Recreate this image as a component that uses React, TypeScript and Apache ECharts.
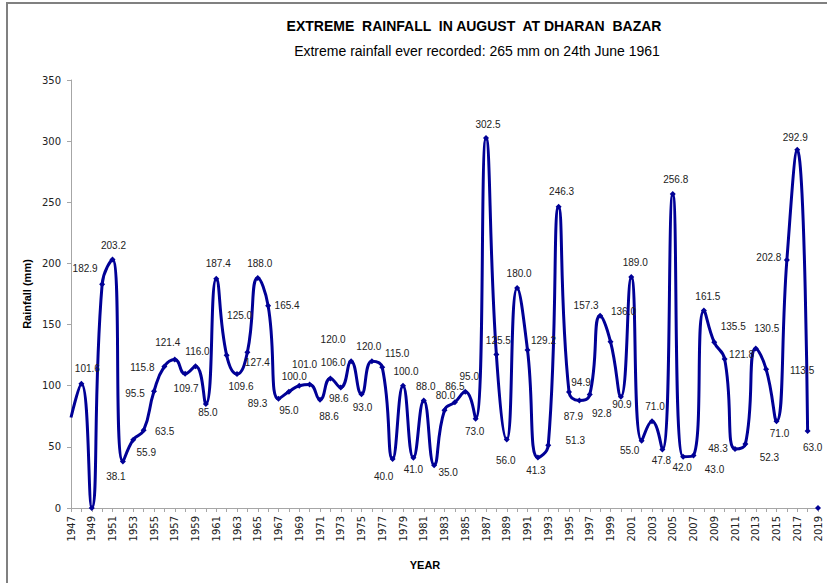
import React, { useEffect, useRef } from "react";
import * as echarts from "echarts";

const TITLE = "EXTREME  RAINFALL  IN AUGUST  AT DHARAN  BAZAR";
const SUBTITLE = "Extreme rainfall ever recorded: 265 mm on 24th June 1961";
const Y_NAME = "Rainfall (mm)";
const X_NAME = "YEAR";

const years = [
  "1947", "1948", "1949", "1950", "1951", "1952", "1953", "1954", "1955", "1956",
  "1957", "1958", "1959", "1960", "1961", "1962", "1963", "1964", "1965", "1966",
  "1967", "1968", "1969", "1970", "1971", "1972", "1973", "1974", "1975", "1976",
  "1977", "1978", "1979", "1980", "1981", "1982", "1983", "1984", "1985", "1986",
  "1987", "1988", "1989", "1990", "1991", "1992", "1993", "1994", "1995", "1996",
  "1997", "1998", "1999", "2000", "2001", "2002", "2003", "2004", "2005", "2006",
  "2007", "2008", "2009", "2010", "2011", "2012", "2013", "2014", "2015", "2016",
  "2017", "2018", "2019",
];

// rainfall (mm), 1947..2018
const rainfall = [
  74, 101.6, 0, 182.9, 203.2, 38.1, 55.9, 63.5, 95.5, 115.8,
  121.4, 109.7, 116.0, 85.0, 187.4, 125.0, 109.6, 127.4, 188.0, 165.4,
  89.3, 95.0, 100.0, 101.0, 88.6, 106.0, 98.6, 120.0, 93.0, 120.0,
  115.0, 40.0, 100.0, 41.0, 88.0, 35.0, 80.0, 86.5, 95.0, 73.0,
  302.5, 125.5, 56.0, 180.0, 129.2, 41.3, 51.3, 246.3, 94.9, 87.9,
  92.8, 157.3, 136.0, 90.9, 189.0, 55.0, 71.0, 47.8, 256.8, 42.0,
  43.0, 161.5, 135.5, 121.8, 48.3, 52.3, 130.5, 113.5, 71.0, 202.8,
  292.9, 63.0,
];

// isolated final reading (2019)
const lastYearValue = 0;

// which points carry a data label
const labelShown = rainfall.map((_, i) => i !== 0 && i !== 2);

// label placement offsets (layout only), per point
const labelOffsets: number[][] = [
  [0, 0], [6, -15], [0, 0], [-17, -16], [1, -14], [-7, 15], [13, 13], [21, 1], [-19, 2], [-22, 1],
  [-7, -17], [1, 15], [2, -15], [2, 8], [2, -15], [13, -40], [4, 13], [10, 10], [2, -15], [19, 0],
  [-21, 5], [0, 19], [-5, -9], [-5, -20], [9, 17], [3, -16], [-2, 11], [-18, -22], [1, 13], [-3, -15],
  [15, -14], [-9, 17], [3, -14], [0, 12], [2, -14], [14, 7], [1, -15], [0, -16], [4, -15], [-1, 13],
  [2, -14], [2, -14], [-1, 21], [2, -14], [16, -10], [-2, 13], [27, -5], [3, -15], [12, -9], [-6, 16],
  [12, 19], [-14, -10], [13, -30], [1, 8], [4, -14], [-12, 10], [3, -15], [-1, 11], [3, -14], [-1, 11],
  [21, 14], [4, -14], [19, -16], [17, -5], [-17, 0], [24, 13], [11, -20], [36, 1], [3, 12], [-18, -3],
  [-2, -12], [5, 17],
];

const LINE_COLOR = "#000096";

export default function App() {
  const ref = useRef<HTMLDivElement>(null);

  useEffect(() => {
    if (!ref.current) return;
    const chart = echarts.init(ref.current, null, { renderer: "svg" });

    const mainData = rainfall.map((v, i) => ({
      value: v,
      symbolSize: i === 0 ? 0 : 6,
      label: {
        show: labelShown[i],
        position: "inside",
        offset: labelOffsets[i],
      },
    }));

    const lastData = years.map((_, i) => (i === years.length - 1 ? lastYearValue : null));

    chart.setOption({
      animation: false,
      backgroundColor: "#ffffff",
      title: [
        {
          text: TITLE,
          left: 469,
          top: 14,
          textAlign: "center",
          textStyle: {
            fontFamily: "Liberation Sans, Arial, sans-serif",
            fontSize: 14,
            fontWeight: "bold",
            color: "#000",
          },
        },
        {
          text: SUBTITLE,
          left: 472,
          top: 39,
          textAlign: "center",
          textStyle: {
            fontFamily: "Liberation Sans, Arial, sans-serif",
            fontSize: 14,
            fontWeight: "normal",
            color: "#000",
          },
        },
      ],
      grid: { left: 71, right: 9, top: 80, bottom: 75, containLabel: false },
      xAxis: {
        type: "category",
        data: years,
        boundaryGap: false,
        axisLine: { lineStyle: { color: "#a6a6a6", width: 1 } },
        axisTick: {
          show: true,
          interval: 0,
          length: 4,
          lineStyle: { color: "#a6a6a6" },
        },
        axisLabel: {
          interval: 1,
          rotate: 90,
          margin: 8,
          fontFamily: "DejaVu Sans, sans-serif",
          fontSize: 10,
          color: "#222",
        },
        splitLine: { show: false },
      },
      yAxis: {
        type: "value",
        min: 0,
        max: 350,
        interval: 50,
        axisLine: { show: true, lineStyle: { color: "#a6a6a6", width: 1 } },
        axisTick: { show: true, length: 4, lineStyle: { color: "#a6a6a6" } },
        axisLabel: {
          margin: 10,
          fontFamily: "DejaVu Sans, sans-serif",
          fontSize: 10,
          color: "#222",
        },
        splitLine: { show: false },
      },
      graphic: [
        {
          type: "rect",
          shape: { x: 7, y: 3, width: 900, height: 700 },
          style: { fill: "none", stroke: "#808080", lineWidth: 2 },
          silent: true,
          z: -10,
        },
        {
          type: "text",
          x: 27,
          y: 294,
          rotation: Math.PI / 2,
          style: {
            text: Y_NAME,
            fontFamily: "Liberation Sans, Arial, sans-serif",
            fontSize: 11,
            fontWeight: "bold",
            fill: "#000",
            align: "center",
            verticalAlign: "middle",
          },
        },
        {
          type: "text",
          x: 425,
          y: 565,
          style: {
            text: X_NAME,
            fontFamily: "Liberation Sans, Arial, sans-serif",
            fontSize: 11,
            fontWeight: "bold",
            fill: "#000",
            align: "center",
            verticalAlign: "middle",
          },
        },
      ],
      series: [
        {
          type: "line",
          data: mainData,
          smooth: 0.5,
          symbol: "diamond",
          showAllSymbol: true,
          lineStyle: { color: LINE_COLOR, width: 3 },
          itemStyle: { color: LINE_COLOR },
          label: {
            show: true,
            position: "inside",
            formatter: (p: any) => Number(p.value).toFixed(1),
            fontFamily: "Liberation Sans, Arial, sans-serif",
            fontSize: 10,
            color: "#222",
            align: "center",
            verticalAlign: "middle",
          },
          z: 3,
        },
        {
          type: "line",
          data: lastData,
          symbol: "diamond",
          symbolSize: 6,
          showAllSymbol: true,
          lineStyle: { color: LINE_COLOR, width: 2 },
          itemStyle: { color: LINE_COLOR },
          label: { show: false },
          z: 3,
        },
      ],
    });

    return () => chart.dispose();
  }, []);

  return (
    <div
      ref={ref}
      style={{ position: "absolute", left: 0, top: 0, width: 827, height: 583 }}
    />
  );
}
